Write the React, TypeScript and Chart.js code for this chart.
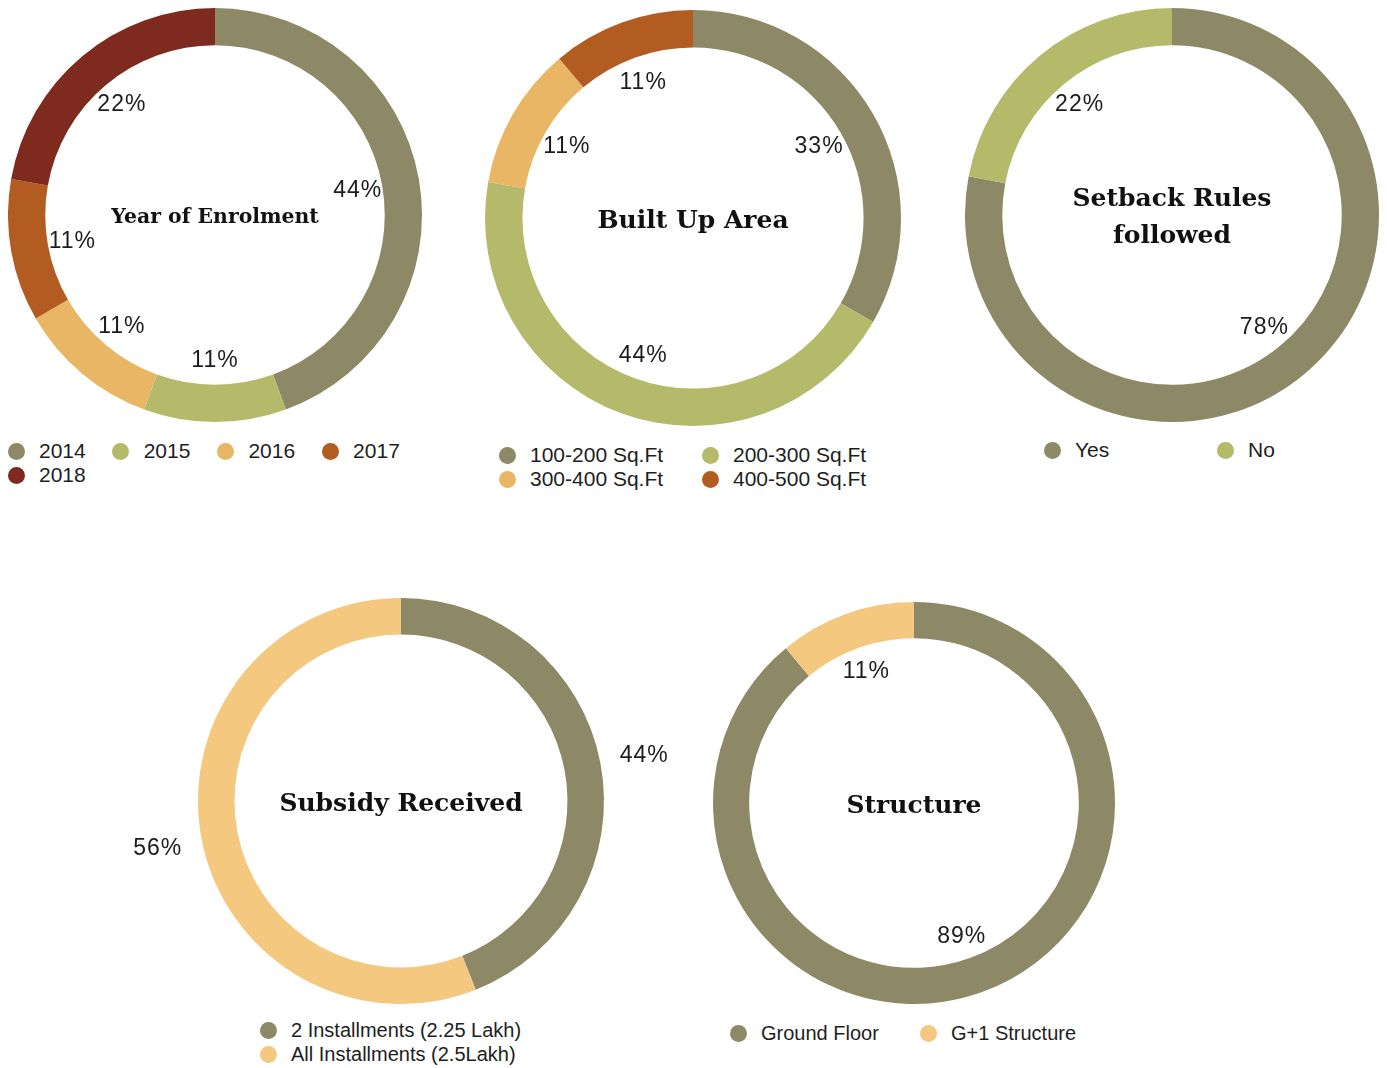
import React, { useEffect, useRef } from "react";
import { Chart, registerables } from "chart.js";

Chart.register(...registerables);

// ---------- data ----------
const enrolmentLabels = ["2014", "2015", "2016", "2017", "2018"];
const enrolmentValues = [44, 11, 11, 11, 22];

const builtUpLabels = ["100-200 Sq.Ft", "200-300 Sq.Ft", "300-400 Sq.Ft", "400-500 Sq.Ft"];
const builtUpValues = [33, 44, 11, 11];

const setbackLabels = ["Yes", "No"];
const setbackValues = [78, 22];

const subsidyLabels = ["2 Installments (2.25 Lakh)", "All Installments (2.5Lakh)"];
const subsidyValues = [44, 56];

const structureLabels = ["Ground Floor", "G+1 Structure"];
const structureValues = [89, 11];

// ---------- colours ----------
const OLIVE = "#8D8866";
const GREEN = "#B4BA6A";
const AMBER = "#E8B664";
const ORANGE = "#B35C22";
const MAROON = "#7E2A1E";
const PEACH = "#F4C87F";

const enrolmentColors = [OLIVE, GREEN, AMBER, ORANGE, MAROON];
const builtUpColors = [OLIVE, GREEN, AMBER, ORANGE];
const setbackColors = [OLIVE, GREEN];
const subsidyColors = [OLIVE, PEACH];
const structureColors = [OLIVE, PEACH];

type Spec = {
  labels: string[];
  values: number[];
  colors: string[];
  title: string[];
  titleSize: number;
  titleLineHeight: number;
  cx: number;
  cy: number;
  r: number;
  pad: number;
  labelFactor: number;
  legend: { x0: number; step: number; cols: number; y0: number; rowH: number; size: number };
};

const specs: Spec[] = [
  {
    labels: enrolmentLabels, values: enrolmentValues, colors: enrolmentColors,
    title: ["Year of Enrolment"], titleSize: 20.4, titleLineHeight: 36,
    cx: 215, cy: 215, r: 207, pad: 0, labelFactor: 0.7,
    legend: { x0: 16, step: 104.7, cols: 4, y0: 451, rowH: 24, size: 21 },
  },
  {
    labels: builtUpLabels, values: builtUpValues, colors: builtUpColors,
    title: ["Built Up Area"], titleSize: 25, titleLineHeight: 36,
    cx: 693, cy: 218, r: 208, pad: 0, labelFactor: 0.7,
    legend: { x0: 507, step: 203, cols: 2, y0: 455, rowH: 24, size: 21 },
  },
  {
    labels: setbackLabels, values: setbackValues, colors: setbackColors,
    title: ["Setback Rules", "followed"], titleSize: 25, titleLineHeight: 37,
    cx: 1172, cy: 215, r: 207, pad: 0, labelFactor: 0.7,
    legend: { x0: 1052, step: 173, cols: 2, y0: 450, rowH: 24, size: 21 },
  },
  {
    labels: subsidyLabels, values: subsidyValues, colors: subsidyColors,
    title: ["Subsidy Received"], titleSize: 25, titleLineHeight: 36,
    cx: 401, cy: 801, r: 203, pad: 75, labelFactor: 1.22,
    legend: { x0: 268, step: 0, cols: 1, y0: 1030, rowH: 24, size: 20 },
  },
  {
    labels: structureLabels, values: structureValues, colors: structureColors,
    title: ["Structure"], titleSize: 25, titleLineHeight: 36,
    cx: 914, cy: 803, r: 201, pad: 0, labelFactor: 0.7,
    legend: { x0: 738, step: 190, cols: 2, y0: 1033, rowH: 24, size: 20 },
  },
];

const ringPlugin = {
  id: "ringText",
  afterDatasetsDraw(chart: any, _args: any, opts: any) {
    const ctx = chart.ctx as CanvasRenderingContext2D;
    const meta = chart.getDatasetMeta(0);
    const data = chart.data.datasets[0].data as number[];
    ctx.save();
    ctx.fillStyle = "#1c1c1c";
    ctx.textAlign = "center";
    ctx.textBaseline = "middle";
    ctx.font = `23px "Liberation Sans", Arial, sans-serif`;
    try { (ctx as any).letterSpacing = "1px"; } catch (e) {}
    let cx = 0, cy = 0;
    meta.data.forEach((arc: any, i: number) => {
      const p = arc.getProps(["startAngle", "endAngle", "outerRadius", "x", "y"], true);
      const mid = (p.startAngle + p.endAngle) / 2;
      const rr = p.outerRadius * opts.factor;
      cx = p.x; cy = p.y;
      ctx.fillText(`${data[i]}%`, p.x + Math.cos(mid) * rr, p.y + Math.sin(mid) * rr + 1);
    });
    try { (ctx as any).letterSpacing = "0px"; } catch (e) {}
    ctx.font = `bold ${opts.titleSize}px "DejaVu Serif", "Liberation Serif", serif`;
    ctx.fillStyle = "#111";
    const lines: string[] = opts.title;
    const n = lines.length;
    lines.forEach((line, k) => {
      const off = (k - (n - 1) / 2) * opts.titleLineHeight;
      ctx.fillText(line, cx, cy + off + 3);
    });
    ctx.restore();
  },
};

function Donut({ spec }: { spec: Spec }) {
  const ref = useRef<HTMLCanvasElement | null>(null);
  useEffect(() => {
    if (!ref.current) return;
    const chart = new Chart(ref.current, {
      type: "doughnut",
      data: {
        labels: spec.labels,
        datasets: [
          {
            data: spec.values,
            backgroundColor: spec.colors,
            borderWidth: 0,
          },
        ],
      },
      options: {
        animation: false,
        responsive: false,
        maintainAspectRatio: false,
        cutout: "82%",
        events: [],
        layout: { padding: { left: spec.pad, right: spec.pad, top: 0, bottom: 0 } },
        plugins: {
          legend: { display: false },
          tooltip: { enabled: false },
          ringText: {
            factor: spec.labelFactor,
            title: spec.title,
            titleSize: spec.titleSize,
            titleLineHeight: spec.titleLineHeight,
          },
        } as any,
      },
      plugins: [ringPlugin],
    });
    return () => chart.destroy();
  }, [spec]);

  const w = spec.r * 2 + spec.pad * 2;
  const h = spec.r * 2;
  const L = spec.legend;
  return (
    <>
      <canvas
        ref={ref}
        width={w}
        height={h}
        style={{ position: "absolute", left: spec.cx - spec.r - spec.pad, top: spec.cy - spec.r, width: w, height: h }}
      />
      {spec.labels.map((lab, i) => {
        const col = i % L.cols;
        const row = Math.floor(i / L.cols);
        const x = L.x0 + col * L.step;
        const y = L.y0 + row * L.rowH;
        return (
          <div
            key={lab}
            style={{
              position: "absolute",
              left: x - 8.5,
              top: y - 12,
              height: 24,
              display: "flex",
              alignItems: "center",
              whiteSpace: "nowrap",
              fontFamily: '"Liberation Sans", Arial, sans-serif',
              fontSize: L.size,
              color: "#1e1e1e",
            }}
          >
            <span
              style={{
                display: "inline-block",
                width: 17,
                height: 17,
                borderRadius: "50%",
                background: spec.colors[i],
                marginRight: 14.5,
              }}
            />
            <span>{lab}</span>
          </div>
        );
      })}
    </>
  );
}

export default function App() {
  return (
    <div style={{ position: "absolute", left: 0, top: 0, width: 1387, height: 1068, background: "#fff", overflow: "hidden" }}>
      {specs.map((s, i) => (
        <Donut key={i} spec={s} />
      ))}
    </div>
  );
}
